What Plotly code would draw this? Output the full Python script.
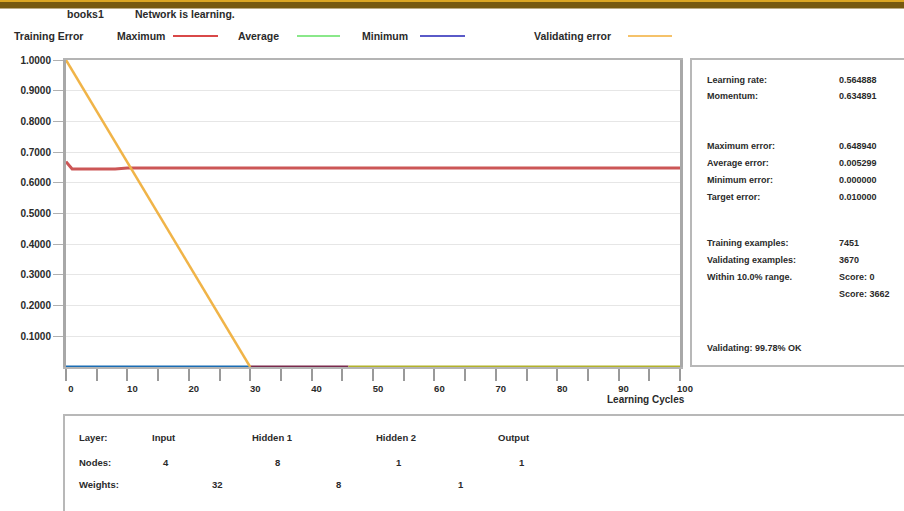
import plotly.graph_objects as go

# ---------------- data ----------------
cycles_max = [0, 1, 8, 10, 100]
max_err = [0.669, 0.645, 0.645, 0.648, 0.648]

cycles_val = [0, 30]
val_err = [1.0, 0.0]

cycles_min = [0, 30]
min_err = [0.0, 0.0]

cycles_avg = [30, 46]
avg_err = [0.0, 0.0]

cycles_val_tail = [46, 100]
val_tail = [0.0, 0.0]

y_ticks = [0.1, 0.2, 0.3, 0.4, 0.5, 0.6, 0.7, 0.8, 0.9, 1.0]
x_ticks = [0, 10, 20, 30, 40, 50, 60, 70, 80, 90, 100]

stats_labels = ["Learning rate:", "Momentum:", "Maximum error:", "Average error:",
                "Minimum error:", "Target error:", "Training examples:",
                "Validating examples:", "Within 10.0% range."]
stats_values = ["0.564888", "0.634891", "0.648940", "0.005299", "0.000000",
                "0.010000", "7451", "3670", "Score: 0"]
stats_rows_y = [80, 96, 146, 163, 180, 197, 243, 260, 277]

layer_names = ["Input", "Hidden 1", "Hidden 2", "Output"]
layer_nodes = ["4", "8", "1", "1"]
layer_weights = ["32", "8", "1"]

# ---------------- geometry helpers ----------------
W, H = 904, 511
L, R, T, B = 66, 680, 60, 367


def px(x):
    return (x - L) / (R - L)


def py(y):
    return (B - y) / (B - T)


FONT = "Liberation Sans, Arial, sans-serif"
TXT = "#2a2a2a"

fig = go.Figure()

fig.add_trace(go.Scatter(x=cycles_max, y=max_err, mode="lines",
                         line=dict(color="#cc5656", width=3), name="Maximum"))
fig.add_trace(go.Scatter(x=cycles_min, y=min_err, mode="lines",
                         line=dict(color="#1a6db4", width=3), name="Minimum"))
fig.add_trace(go.Scatter(x=cycles_avg, y=avg_err, mode="lines",
                         line=dict(color="#7a2a4c", width=3), name="Average"))
fig.add_trace(go.Scatter(x=cycles_val_tail, y=val_tail, mode="lines",
                         line=dict(color="#b2b22a", width=3), name="Validating tail"))
fig.add_trace(go.Scatter(x=cycles_val, y=val_err, mode="lines",
                         line=dict(color="#f0b448", width=2.5), name="Validating error"))

shapes = []
annotations = []

# top banner
shapes.append(dict(type="rect", xref="paper", yref="paper", x0=px(-10), x1=px(W + 10),
                   y0=py(8.5), y1=py(-2), fillcolor="#76590f", line=dict(width=0), layer="above"))
shapes.append(dict(type="rect", xref="paper", yref="paper", x0=px(-10), x1=px(W + 10),
                   y0=py(2), y1=py(-2), fillcolor="#dba622", line=dict(width=0), layer="above"))


def text(x, y, s, size=9.5, anchor="left", weight="bold"):
    annotations.append(dict(x=px(x), y=py(y), xref="paper", yref="paper", text=s,
                            showarrow=False, xanchor=anchor, yanchor="middle",
                            font=dict(family=FONT, size=size, color=TXT, weight=weight)))


# header
text(65, 14, "books1", 10.5)
text(133, 14, "Network is learning.", 10.5)
text(12, 36, "Training Error", 10.5)
text(115, 36, "Maximum", 10.5)
text(236, 36, "Average", 10.5)
text(360, 36, "Minimum", 10.5)
text(532, 36, "Validating error", 10.5)
for x0, x1, c in [(173, 218, "#d94848"), (297, 340, "#8ae88a"),
                  (420, 465, "#5a5ac8"), (628, 672, "#f5c26a")]:
    shapes.append(dict(type="line", xref="paper", yref="paper", x0=px(x0), x1=px(x1),
                       y0=py(36), y1=py(36), line=dict(color=c, width=2)))

# right panel
shapes.append(dict(type="rect", xref="paper", yref="paper", x0=px(691), x1=px(915),
                   y0=py(366), y1=py(59), line=dict(color="#b8b8b8", width=2)))
for lab, val, yy in zip(stats_labels, stats_values, stats_rows_y):
    text(705, yy, lab, 9)
    text(837, yy, val, 9)
text(837, 294, "Score: 3662", 9)
text(705, 348, "Validating: 99.78% OK", 9)

# bottom panel
shapes.append(dict(type="rect", xref="paper", yref="paper", x0=px(64), x1=px(915),
                   y0=py(520), y1=py(415), line=dict(color="#b8b8b8", width=2)))
text(77, 437, "Layer:", 9.5)
text(77, 462, "Nodes:", 9.5)
text(77, 484, "Weights:", 9.5)
for name, cx in zip(layer_names, [164, 272, 396, 514]):
    text(cx, 437, name, 9.5, anchor="center")
for n, cx in zip(layer_nodes, [166, 277, 399, 522]):
    text(cx, 462, n, 9.5, anchor="center")
for w, cx in zip(layer_weights, [217, 338, 461]):
    text(cx, 484, w, 9.5, anchor="center")

# x axis title
text(646, 399, "Learning Cycles", 10, anchor="center")

fig.update_layout(
    width=W, height=H,
    margin=dict(l=L, r=W - R, t=T, b=H - B, pad=0),
    paper_bgcolor="white", plot_bgcolor="white",
    showlegend=False,
    shapes=shapes, annotations=annotations,
    xaxis=dict(range=[0, 100], tickvals=x_ticks, ticks="outside", ticklen=12,
               tickcolor="#9a9a9a", tickwidth=1.5, showgrid=False, zeroline=False,
               showline=True, linecolor="#b4b4b4", linewidth=2, mirror=True,
               ticklabelshift=5,
               minor=dict(dtick=5, ticks="outside", ticklen=12, tickcolor="#9a9a9a",
                          tickwidth=1.5, showgrid=False),
               tickfont=dict(family=FONT, size=9.5, color=TXT, weight="bold")),
    yaxis=dict(range=[0, 1.0], tickvals=y_ticks, tickformat=".4f", ticks="outside",
               ticklen=10, tickcolor="#b0b0b0", tickwidth=1, showgrid=True,
               gridcolor="#e6e6e6", gridwidth=1, zeroline=False,
               showline=True, linecolor="#a8a8a8", linewidth=3, mirror=True,
               tickfont=dict(family=FONT, size=10, color=TXT, weight="bold")),
)

fig.write_html("out.html", config={"displayModeBar": False},
               post_script="document.body.style.margin='0';document.body.style.overflow='hidden';")
